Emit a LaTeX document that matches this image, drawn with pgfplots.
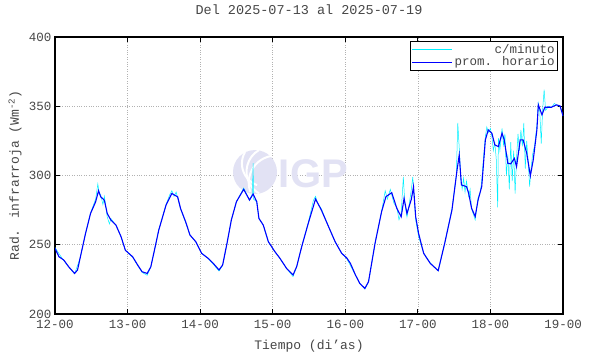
\documentclass[border=0pt]{standalone}
\usepackage{pgfplots}
\pgfplotsset{compat=1.18}
\usepackage{fontspec}
\setmainfont{Liberation Mono}
\newfontfamily\logofont{Liberation Sans}
\definecolor{txt}{RGB}{70,70,70}
\definecolor{cyanmin}{RGB}{0,240,255}
\definecolor{logoc}{RGB}{226,226,244}
\begin{document}
\begin{tikzpicture}
\begin{axis}[
  scale only axis, width=508pt, height=277pt,
  xmin=12, xmax=19, ymin=200, ymax=400,
  xtick={12,...,19},
  xticklabels={12-00,13-00,14-00,15-00,16-00,17-00,18-00,19-00},
  ytick={200,250,...,400},
  /pgf/number format/assume math mode=true,
  tick label style={font=\fontsize{12.5}{14}\selectfont, text=txt},
  xticklabel style={yshift=-3pt},
  major tick length=5pt,
  tick style={black, line width=0.8pt},
  axis line style={line width=1.2pt},
  grid=major,
  major grid style={gray!60, dotted, line width=0.6pt},
  title={Del 2025-07-13 al 2025-07-19},
  title style={font=\fontsize{13.5}{15}\selectfont, text=txt, at={(0.5,1)}, anchor=base, yshift=16pt},
  xlabel={Tiempo (di'as)},
  xlabel style={font=\fontsize{13}{15}\selectfont, text=txt, at={(0.5,0)}, anchor=base, yshift=-35pt},
  ylabel={Rad. infrarroja (Wm\textsuperscript{-2})},
  ylabel style={font=\fontsize{13}{15}\selectfont, text=txt, at={(axis description cs:0,0.5)}, anchor=base, yshift=36pt},
  legend style={at={(1,1)}, anchor=north east, xshift=-5pt, yshift=-4pt,
    font=\fontsize{12.5}{13}\selectfont, draw=black, line width=0.6pt,
    inner sep=1pt, row sep=-2pt, text=txt},
  legend cell align=right,
  legend image code/.code={\draw[#1] (0pt,0pt) -- (40pt,0pt);},
]
% watermark
\fill[logoc] (axis cs:14.756,302.5) circle[radius=22pt];
\draw[white, line width=2pt] ([xshift=-10pt,yshift=20pt]axis cs:14.756,302.5) arc[start angle=150, end angle=250, radius=23pt];
\draw[white, line width=2pt] ([xshift=4pt,yshift=22pt]axis cs:14.756,302.5) arc[start angle=120, end angle=240, radius=25pt];
\draw[white, line width=2pt] ([xshift=16pt,yshift=16pt]axis cs:14.756,302.5) arc[start angle=100, end angle=200, radius=27pt];
\node[text=logoc, font=\logofont\bfseries\fontsize{40}{42}\selectfont, anchor=center] at (axis cs:15.56,301.5) {IGP};

\addplot[cyanmin, line width=0.5pt] table {
12.00 248
12.10 240
12.19 234
12.27 229
12.35 241
12.42 258
12.49 273
12.56 283
12.59 294
12.61 287
12.63 286
12.66 279
12.68 285
12.72 270
12.75 265
12.77 269
12.84 264
12.91 256
12.97 246
13.07 241
13.14 235
13.20 230
13.27 228
13.32 234
13.37 246
13.43 261
13.53 279
13.58 286
13.61 289
13.64 285
13.67 288
13.69 284
13.73 276
13.80 266
13.86 257
13.94 252
14.02 244
14.11 240
14.18 236
14.26 231
14.31 235
14.37 251
14.43 268
14.50 281
14.57 288
14.60 291
14.68 282
14.72 287
14.73 309
14.735 283
14.78 281
14.81 269
14.87 264
14.94 252
15.03 245
15.10 240
15.19 233
15.28 227
15.33 234
15.40 249
15.49 266
15.56 282
15.59 285
15.62 280
15.67 276
15.77 263
15.86 252
15.95 244
16.02 240
16.14 228
16.20 222
16.27 218
16.32 223
16.41 251
16.50 274
16.55 289
16.58 283
16.62 290
16.64 286
16.67 280
16.71 277
16.74 268
16.77 273
16.80 299
16.82 280
16.85 270
16.88 279
16.91 290
16.93 299
16.95 283
16.97 268
17.01 256
17.08 244
17.17 237
17.28 231
17.37 251
17.47 276
17.53 300
17.55 338
17.57 320
17.59 300
17.61 290
17.63 298
17.65 288
17.67 296
17.70 285
17.72 290
17.74 276
17.79 268
17.83 284
17.86 288
17.88 296
17.90 310
17.93 328
17.95 335
17.97 331
18.00 334
18.02 328
18.04 318
18.06 324
18.08 312
18.10 277
18.11 327
18.13 318
18.16 334
18.18 322
18.20 330
18.22 300
18.24 315
18.26 290
18.28 324
18.30 296
18.32 318
18.34 287
18.36 313
18.38 330
18.40 318
18.42 333
18.44 321
18.46 338
18.48 305
18.50 325
18.52 310
18.54 292
18.56 305
18.58 315
18.61 322
18.64 336
18.66 352
18.68 346
18.70 323
18.72 348
18.74 362
18.76 347
18.80 350
18.84 349
18.88 352
18.91 351
18.96 350
19.00 343
};
\addlegendentry{c/minuto}

\addplot[blue, line width=1.1pt] table {
12.00 247.4
12.055 241.3
12.12 239
12.19 234
12.27 229.3
12.31 231.7
12.35 241.3
12.42 258
12.49 272.6
12.56 281
12.60 289
12.63 284.6
12.68 282.2
12.72 272.6
12.77 267.8
12.84 264.2
12.91 255.8
12.97 246
13.07 241.3
13.14 235.3
13.20 230.5
13.27 229.3
13.32 234
13.37 246
13.43 260.6
13.53 278.6
13.61 287
13.69 284.6
13.73 276.2
13.80 266.6
13.86 257
13.94 252.2
14.02 243.8
14.11 240.2
14.18 236.6
14.26 231.8
14.31 235.4
14.37 251
14.43 267.9
14.50 281.1
14.60 290
14.68 282.3
14.73 286.6
14.78 281.1
14.81 269
14.87 264.2
14.94 252.2
15.03 245
15.10 240.2
15.19 233
15.28 228.2
15.33 234.2
15.40 248.7
15.49 265.5
15.59 283
15.67 275.1
15.77 263
15.86 252.2
15.95 243.8
16.02 240.5
16.07 236.6
16.14 228.2
16.20 222.1
16.27 218.5
16.32 223.3
16.41 251
16.50 273.8
16.56 284.7
16.64 287.6
16.71 276.3
16.77 270.2
16.81 283.5
16.85 272.6
16.91 282.8
16.94 291.9
16.97 270.2
17.01 258.2
17.08 243.8
17.17 236.6
17.28 231.3
17.37 251.1
17.47 275.1
17.54 304
17.57 314.8
17.60 293.2
17.67 292
17.70 287.2
17.74 276.4
17.79 270.4
17.83 282.4
17.88 292
17.93 325.7
17.97 332.9
18.02 330.5
18.06 322.1
18.11 320.9
18.16 330.5
18.19 325.7
18.24 308.8
18.28 308.4
18.33 312.4
18.36 306.4
18.41 325.7
18.45 325.7
18.50 316.1
18.55 299.8
18.59 311.3
18.64 332.9
18.66 351
18.71 343.8
18.75 349.3
18.84 349.3
18.91 351
18.96 350.2
19.00 343
};
\addlegendentry{prom. horario}
\end{axis}
\path[use as bounding box] ([xshift=-55pt,yshift=-40pt]current axis.south west) rectangle ([xshift=27pt,yshift=37pt]current axis.north east);
\end{tikzpicture}
\end{document}
